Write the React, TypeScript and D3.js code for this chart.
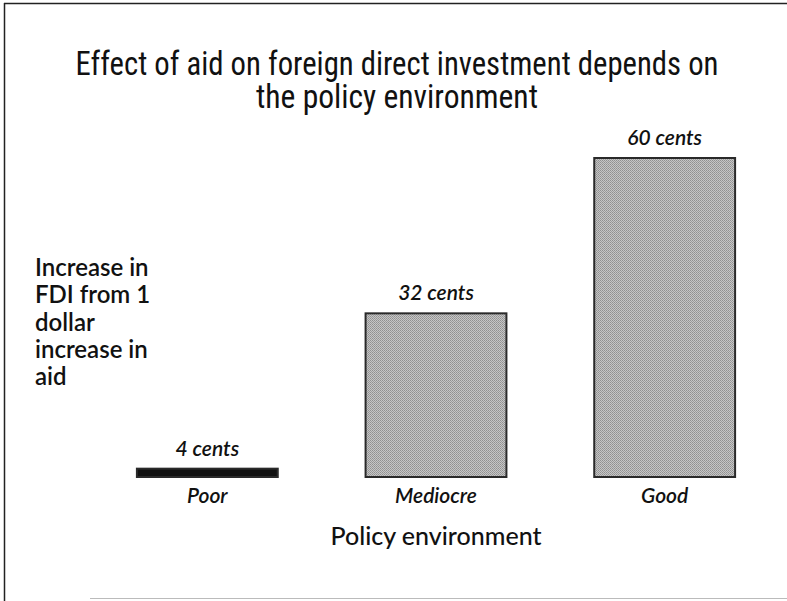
import React from "react";
import * as d3 from "d3";

const categories = ["Poor", "Mediocre", "Good"];
const values = [4, 32, 60];
const valueLabels = ["4 cents", "32 cents", "60 cents"];
const titleLines = ["Effect of aid on foreign direct investment depends on", "the policy environment"];
const titleWidths = [643, 282];
const yLabelLines = ["Increase in", "FDI from 1", "dollar", "increase in", "aid"];
const xTitle = "Policy environment";

const W = 787;
const H = 601;

export default function App() {
  const x = d3
    .scaleBand<string>()
    .domain(categories)
    .range([93, 779])
    .paddingInner(0.384)
    .paddingOuter(0.192);
  const y = d3.scaleLinear().domain([2.5, 60]).range([477, 158]);
  const bodyFont = "Lato, 'Open Sans', sans-serif";
  return (
    <svg
      width={W}
      height={H}
      style={{ position: "absolute", left: 0, top: 0, background: "#fff" }}
    >
      <defs>
        <pattern id="stipple" width={2} height={2} patternUnits="userSpaceOnUse">
          <rect width={2} height={2} fill="#c6c6c6" />
          <rect width={1} height={1} fill="#909090" />
          <rect x={1} y={1} width={1} height={1} fill="#9c9c9c" />
        </pattern>
      </defs>
      <rect width={W} height={H} fill="#fff" />
      {/* frame */}
      <line x1={4} x2={787} y1={3.5} y2={3.5} stroke="#222" strokeWidth={1.5} />
      <line x1={4.5} x2={4.5} y1={3} y2={601} stroke="#222" strokeWidth={1.5} />
      <line x1={90} x2={787} y1={598.5} y2={598.5} stroke="#bbb" strokeWidth={1} />

      {/* title */}
      {titleLines.map((t, i) => (
        <text
          key={t}
          x={397}
          y={75 + i * 33}
          textAnchor="middle"
          fontFamily="'Roboto Condensed', sans-serif"
          fontSize={33}
          textLength={titleWidths[i]}
          lengthAdjust="spacingAndGlyphs"
          fill="#111"
        >
          {t}
        </text>
      ))}

      {/* y label */}
      {yLabelLines.map((t, i) => (
        <text
          key={t}
          x={35}
          y={276 + i * 27.3}
          fontFamily={bodyFont}
          fontWeight={600}
          fontSize={24}
          fill="#111"
        >
          {t}
        </text>
      ))}

      {/* bars */}
      {categories.map((c, i) => {
        const top = y(values[i]);
        const h = y(2.5) - top;
        const thin = h < 14;
        return (
          <g key={c}>
            <rect
              x={x(c)!}
              y={top}
              width={x.bandwidth()}
              height={h}
              fill={thin ? "#111" : "url(#stipple)"}
              stroke="#2a2a2a"
              strokeWidth={2}
            />
            <text
              x={x(c)! + x.bandwidth() / 2}
              y={top - 13}
              textAnchor="middle"
              fontFamily={bodyFont}
              fontStyle="italic"
              fontWeight={600}
              fontSize={21}
              fill="#111"
            >
              {valueLabels[i]}
            </text>
            <text
              x={x(c)! + x.bandwidth() / 2}
              y={503}
              textAnchor="middle"
              fontFamily={bodyFont}
              fontStyle="italic"
              fontWeight={600}
              fontSize={21}
              fill="#111"
            >
              {c}
            </text>
          </g>
        );
      })}

      {/* x title */}
      <text
        x={436}
        y={545}
        textAnchor="middle"
        fontFamily={bodyFont}
        fontSize={25}
        fontWeight={500}
        fill="#111"
      >
        {xTitle}
      </text>
    </svg>
  );
}
